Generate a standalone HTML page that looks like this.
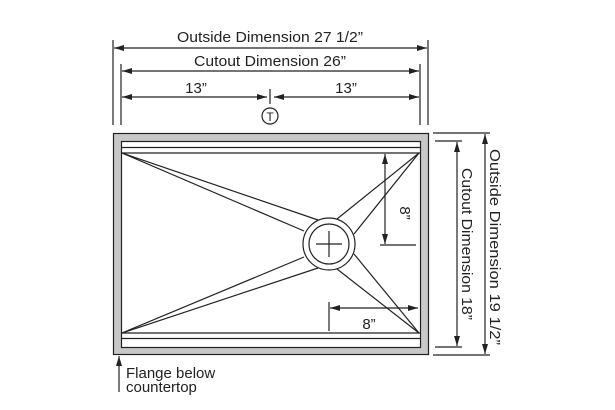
<!DOCTYPE html>
<html><head><style>
html,body{margin:0;padding:0;background:#fff;}
svg{display:block;}
text{font-family:"Liberation Sans",Arial,sans-serif;font-size:14px;fill:#222;}
</style></head><body>
<svg width="615" height="410" viewBox="0 0 615 410" xmlns="http://www.w3.org/2000/svg">
<defs>
<marker id="a" viewBox="0 0 10 6" refX="10" refY="3" markerWidth="10" markerHeight="6" orient="auto-start-reverse" markerUnits="userSpaceOnUse"><path d="M0,0 L10,3 L0,6 z" fill="#222"/></marker>
</defs>
<g stroke="#222" stroke-width="1.2" fill="none">
<line x1="113" y1="40" x2="113" y2="125"/><line x1="428" y1="40" x2="428" y2="125"/>
<line x1="114" y1="48" x2="427" y2="48" marker-start="url(#a)" marker-end="url(#a)"/>
<line x1="121" y1="64" x2="121" y2="125"/><line x1="420" y1="64" x2="420" y2="125"/>
<line x1="122" y1="71" x2="419" y2="71" marker-start="url(#a)" marker-end="url(#a)"/>
<line x1="122" y1="97" x2="267" y2="97" marker-start="url(#a)" marker-end="url(#a)"/>
<line x1="274" y1="97" x2="419" y2="97" marker-start="url(#a)" marker-end="url(#a)"/>
<line x1="270" y1="89" x2="270" y2="104"/>
<circle cx="270" cy="116" r="8"/>
</g>
<text x="270" y="42" text-anchor="middle" style="font-size:15px" textLength="186" lengthAdjust="spacingAndGlyphs">Outside Dimension 27 1/2”</text>
<text x="270" y="66" text-anchor="middle" style="font-size:15px" textLength="152" lengthAdjust="spacingAndGlyphs">Cutout Dimension 26”</text>
<text x="196" y="93" text-anchor="middle" style="font-size:15px">13”</text>
<text x="346" y="93" text-anchor="middle" style="font-size:15px">13”</text>
<text x="270" y="121" text-anchor="middle" style="font-size:12px">T</text>
<rect x="113.5" y="133.5" width="315" height="221" fill="#c8c8c8" stroke="#222" stroke-width="1.2"/>
<rect x="121.5" y="141.5" width="299" height="206" fill="#fff" stroke="#222" stroke-width="1.2"/>
<g stroke="#222" stroke-width="1.2" fill="none">
<line x1="121" y1="147.5" x2="420" y2="147.5"/><line x1="121" y1="153" x2="420" y2="153"/>
<line x1="121" y1="333" x2="420" y2="333"/><line x1="121" y1="338.5" x2="420" y2="338.5"/>
<line x1="122" y1="153" x2="304" y2="231"/><line x1="122" y1="153" x2="318" y2="220"/>
<line x1="419" y1="153" x2="337" y2="219"/><line x1="419" y1="153" x2="354" y2="234"/>
<line x1="122" y1="333" x2="304" y2="257"/><line x1="122" y1="333" x2="318" y2="268"/>
<line x1="419" y1="333" x2="337" y2="269"/><line x1="419" y1="333" x2="354" y2="254"/>
<circle cx="329" cy="244" r="26" fill="#fff"/>
<circle cx="329" cy="244" r="20"/>
<line x1="316" y1="244" x2="342" y2="244"/><line x1="329" y1="231" x2="329" y2="257"/>
<line x1="385" y1="154" x2="385" y2="244" marker-start="url(#a)" marker-end="url(#a)"/>
<line x1="380" y1="245" x2="416" y2="245"/>
<line x1="330" y1="308" x2="418" y2="308" marker-start="url(#a)" marker-end="url(#a)"/>
<line x1="329" y1="302" x2="329" y2="331"/>
<line x1="433" y1="133" x2="490" y2="133"/><line x1="433" y1="355" x2="490" y2="355"/>
<line x1="485" y1="134" x2="485" y2="354" marker-start="url(#a)" marker-end="url(#a)"/>
<line x1="435" y1="141" x2="462" y2="141"/><line x1="435" y1="347" x2="462" y2="347"/>
<line x1="457" y1="142" x2="457" y2="346" marker-start="url(#a)" marker-end="url(#a)"/>
<line x1="119" y1="392" x2="119" y2="356" marker-end="url(#a)"/>
</g>
<text x="369" y="329" text-anchor="middle" style="font-size:15px">8”</text>
<text transform="translate(400,213) rotate(90)" text-anchor="middle" style="font-size:15px">8”</text>
<text transform="translate(462,244) rotate(90)" text-anchor="middle" style="font-size:15px" textLength="152" lengthAdjust="spacingAndGlyphs">Cutout Dimension 18”</text>
<text transform="translate(490,247) rotate(90)" text-anchor="middle" style="font-size:15px" textLength="196" lengthAdjust="spacingAndGlyphs">Outside Dimension 19 1/2”</text>
<text x="126" y="378" style="font-size:15px">Flange below</text>
<text x="126" y="392" style="font-size:15px">countertop</text>
</svg>
</body></html>
